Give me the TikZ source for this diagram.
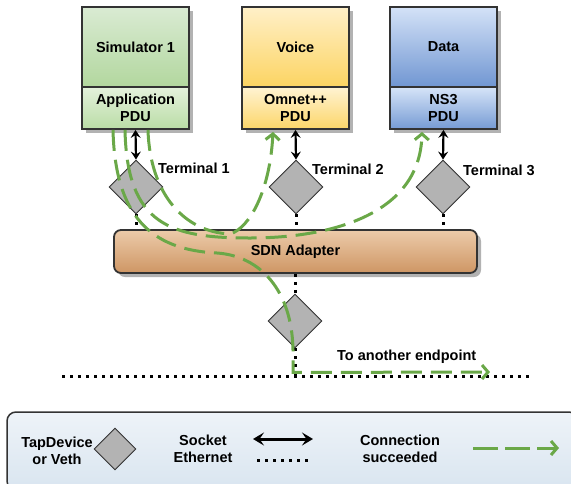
\documentclass[tikz,border=0pt]{standalone}
\usepackage{fontspec}
\setmainfont{Liberation Sans}
\usetikzlibrary{positioning,calc,shapes.geometric,shadows,arrows.meta}

\definecolor{boxline}{RGB}{51,51,51}
\definecolor{okgreen}{RGB}{106,168,72}
\definecolor{tapgray}{RGB}{179,179,179}

\begin{document}
\begin{tikzpicture}[
    x=1pt, y=-1pt,
    lbl/.style={font=\bfseries\fontsize{14.5}{17}\selectfont, align=center, inner sep=0pt},
    sect/.style={lbl, draw=boxline, line width=1.8pt, minimum width=107pt,
        drop shadow={shadow xshift=4pt, shadow yshift=-4pt, fill=black!30, opacity=1}},
    upper/.style={sect, minimum height=80pt},
    lower/.style={sect, minimum height=42pt},
    tap/.style={diamond, aspect=1, draw=boxline, line width=0.9pt, fill=tapgray, minimum width=54pt, minimum height=54pt, inner sep=0pt},
    sock/.style={{Stealth[length=8pt,width=10pt,inset=3pt]}-{Stealth[length=8pt,width=10pt,inset=3pt]}, line width=2.2pt},
    eth/.style={line width=3pt, dash pattern=on 3pt off 5pt},
    ok/.style={okgreen, line width=3pt, dash pattern=on 21pt off 9pt, -{Straight Barb[length=6pt,width=14pt]}}
]
\useasboundingbox (0,0) rectangle (571,483);

% endpoints
\node[upper, top color={rgb,255:red,218;green,235;blue,211}, bottom color={rgb,255:red,178;green,215;blue,158}] (sim) at (135.5,47) {Simulator 1};
\node[lower, top color={rgb,255:red,228;green,241;blue,220}, bottom color={rgb,255:red,186;green,221;blue,166}] (simpdu) at (135.5,108) {Application\\PDU};
\node[upper, top color={rgb,255:red,255;green,240;blue,200}, bottom color={rgb,255:red,252;green,212;blue,98}] (voice) at (295.5,47) {Voice};
\node[lower, top color={rgb,255:red,255;green,243;blue,210}, bottom color={rgb,255:red,252;green,214;blue,105}] (voicepdu) at (295.5,108) {Omnet++\\PDU};
\node[upper, top color={rgb,255:red,212;green,226;blue,247}, bottom color={rgb,255:red,112;green,150;blue,210}] (data) at (443.5,47) {Data};
\node[lower, top color={rgb,255:red,214;green,228;blue,248}, bottom color={rgb,255:red,118;green,155;blue,212}] (datapdu) at (443.5,108) {NS3\\PDU};

% taps
\node[tap] (term1) at (136,187) {};
\node[tap] (term2) at (296,187) {};
\node[tap] (term3) at (443,187) {};
\node[lbl, anchor=west] (lterm1) at (158,168) {Terminal 1};
\node[lbl, anchor=west] (lterm2) at (312,169) {Terminal 2};
\node[lbl, anchor=west] (lterm3) at (463,170) {Terminal 3};

% adapter
\node[lbl, draw=boxline, line width=1.8pt, rounded corners=7pt, minimum width=363pt, minimum height=43pt,
    top color={rgb,255:red,236;green,203;blue,170}, bottom color={rgb,255:red,206;green,150;blue,100},
    drop shadow={shadow xshift=4pt, shadow yshift=-4pt, fill=black!30, opacity=1}] (sdn) at (295.5,251.5) {SDN Adapter};
\node[tap] (tap) at (295,321) {};
\coordinate (wirel) at (62,376);
\coordinate (wirer) at (530,376);
\node[lbl, anchor=west] (far) at (337,357) {To another endpoint};

\draw[sock] (simpdu.south) -- (term1.north);
\draw[sock] (voicepdu.south) -- (term2.north);
\draw[sock] (datapdu.south) -- (term3.north);
\draw[eth] (term1.south) -- (term1.south |- sdn.north);
\draw[eth] (term2.south) -- (term2.south |- sdn.north);
\draw[eth] (term3.south) -- (term3.south |- sdn.north);
\draw[eth] (tap.north |- sdn.south) -- (tap.north);
\draw[eth] (tap.south) -- (tap.south |- wirel);
\draw[eth] (wirel) -- (wirer);

% connections
\draw[ok] ($(simpdu.south)+(12.5,0)$) .. controls (150,195) and (185,232) .. (230,234)
    .. controls (250,228) and (270,190) .. ($(voicepdu.south)+(-22.5,2)$);
\draw[ok] ($(simpdu.south)+(-10.5,0)$) .. controls (127,225) and (170,238) .. (250,238)
    .. controls (330,238) and (420,215) .. ($(datapdu.south)+(-21.5,2)$);
\coordinate (turn) at ($(tap.south)+(-2,24)$);
\coordinate (farend) at (490,372);
\draw[ok] ($(simpdu.south)+(-22.5,0)$) .. controls (115,215) and (150,250) .. (217,253)
    .. controls (260,256) and (292,290) .. (293,350) -- (turn) -- (farend);

% legend
\node[draw=boxline, line width=1.5pt, rounded corners=9pt, minimum width=571pt, minimum height=78pt,
    top color={rgb,255:red,238;green,243;blue,248}, bottom color={rgb,255:red,217;green,229;blue,240}] (legend) at (292.5,451) {};
\node[lbl] (ltap) at (57,450.5) {TapDevice\\or Veth};
\node[tap, minimum width=42pt, minimum height=42pt] (keytap) at (115,449) {};
\node[lbl] (lsock) at (203,449) {Socket\\Ethernet};
\coordinate (sockl) at (253,439);
\coordinate (sockr) at (313,439);
\draw[{Stealth[length=11pt,width=13pt,inset=4.5pt]}-{Stealth[length=11pt,width=13pt,inset=4.5pt]}, line width=3pt] (sockl) -- (sockr);
\coordinate (ethl) at (257,460);
\coordinate (ethr) at (309,460);
\draw[eth] (ethl) -- (ethr);
\node[lbl] (lok) at (400,449) {Connection\\succeeded};
\coordinate (okl) at (473,448);
\coordinate (okr) at (559,448);
\draw[ok, dash pattern=on 25pt off 7pt] (okl) -- (okr);
\end{tikzpicture}
\end{document}
